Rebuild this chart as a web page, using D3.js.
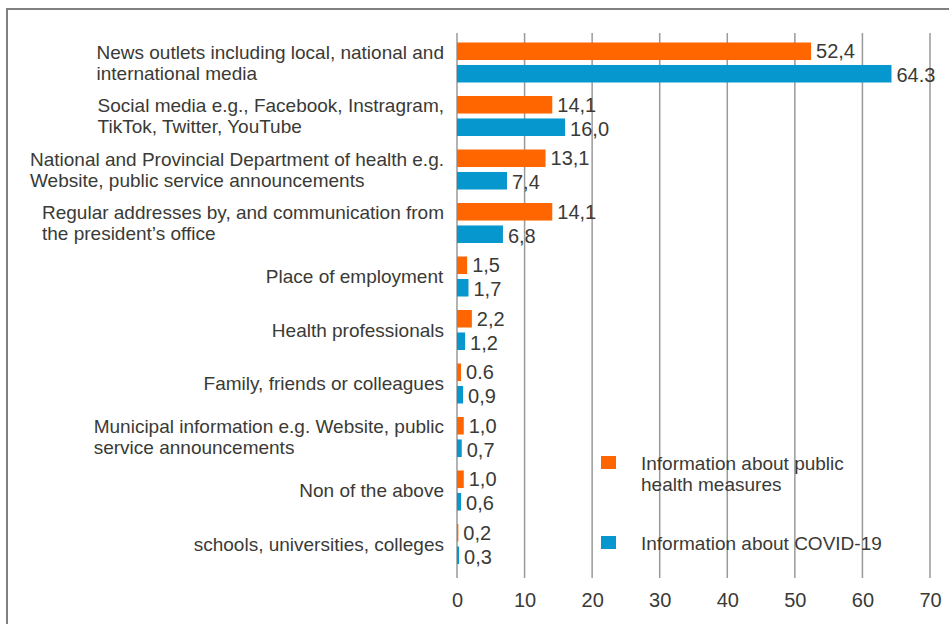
<!DOCTYPE html>
<html>
<head>
<meta charset="utf-8">
<script src="https://cdn.jsdelivr.net/npm/d3@7"></script>
<style>
  body { margin: 0; background: #fff; }
  svg { display: block; font-family: "Liberation Sans", Arial, sans-serif; }
</style>
</head>
<body>
<div id="chart"></div>
<script>
/* DATA */
const categories = [
  ["News outlets including local, national and", "international media"],
  ["Social media e.g., Facebook, Instragram,", "TikTok, Twitter, YouTube"],
  ["National and Provincial Department of health e.g.", "Website, public service announcements"],
  ["Regular addresses by, and communication from", "the president\u2019s office"],
  ["Place of employment"],
  ["Health professionals"],
  ["Family, friends or colleagues"],
  ["Municipal information e.g. Website, public", "service announcements"],
  ["Non of the above"],
  ["schools, universities, colleges"]
];
const healthValues = [52.4, 14.1, 13.1, 14.1, 1.5, 2.2, 0.6, 1.0, 1.0, 0.2];
const covidValues  = [64.3, 16.0, 7.4, 6.8, 1.7, 1.2, 0.9, 0.7, 0.6, 0.3];
const healthLabels = ["52,4", "14,1", "13,1", "14,1", "1,5", "2,2", "0.6", "1,0", "1,0", "0,2"];
const covidLabels  = ["64.3", "16,0", "7,4", "6,8", "1,7", "1,2", "0,9", "0,7", "0,6", "0,3"];
const seriesNames = ["Information about public health measures", "Information about COVID-19"];
const xTicks = [0, 10, 20, 30, 40, 50, 60, 70];

/* CONSTANTS */
const width = 949, height = 624;
const colors = ["#ff6600", "#0797cf"];
const textColor = "#3a3a36";

const svg = d3.select("#chart").append("svg")
  .attr("width", width)
  .attr("height", height);

// frame
svg.append("rect")
  .attr("x", 7).attr("y", 9)
  .attr("width", width + 20).attr("height", height + 20)
  .attr("fill", "none")
  .attr("stroke", "#808080")
  .attr("stroke-width", 2);

// SCALES
const xScale = d3.scaleLinear().domain([0, 70]).range([457, 930]);
const yScale = d3.scaleBand()
  .domain(d3.range(categories.length))
  .range([37, 37 + 53.5 * categories.length]);
const inner = d3.scaleBand()
  .domain([0, 1])
  .range([5.5, 45.5])
  .paddingInner(0.22);

// GRID
svg.append("g")
  .selectAll("line")
  .data(xTicks)
  .join("line")
  .attr("x1", d => xScale(d)).attr("x2", d => xScale(d))
  .attr("y1", 33).attr("y2", 578)
  .attr("stroke", "#9a9a9a")
  .attr("stroke-width", 1.5);

// X AXIS labels
const xAxis = d3.axisBottom(xScale).tickValues(xTicks).tickSize(0).tickPadding(0);
const xAxisGroup = svg.append("g")
  .attr("transform", `translate(0, ${593})`)
  .call(xAxis);
xAxisGroup.select(".domain").remove();
xAxisGroup.selectAll("text")
  .attr("font-size", 20)
  .attr("font-family", "Liberation Sans, Arial, sans-serif")
  .attr("fill", textColor);

// BARS
const series = [healthValues, covidValues];
const labels = [healthLabels, covidLabels];

series.forEach((vals, s) => {
  svg.append("g")
    .selectAll("rect")
    .data(vals)
    .join("rect")
    .attr("x", xScale(0))
    .attr("y", (d, i) => yScale(i) + inner(s))
    .attr("width", d => xScale(d) - xScale(0))
    .attr("height", inner.bandwidth())
    .attr("fill", colors[s]);

  svg.append("g")
    .selectAll("text")
    .data(vals)
    .join("text")
    .attr("x", d => xScale(d) + 5)
    .attr("y", (d, i) => yScale(i) + inner(s) + inner.bandwidth() / 2 + 7 + s * 1.5)
    .attr("font-size", 20)
    .attr("fill", textColor)
    .text((d, i) => labels[s][i]);
});

// CATEGORY LABELS (left aligned blocks, right edge at 444)
const rightEdge = 444, lineH = 21;
categories.forEach((lines, i) => {
  const cy = yScale(i) + yScale.bandwidth() / 2 - 1;
  const t = svg.append("text")
    .attr("font-size", 19)
    .attr("fill", textColor);
  lines.forEach((ln, j) => {
    t.append("tspan")
      .attr("x", 0)
      .attr("y", cy + 6.5 + (j - (lines.length - 1) / 2) * lineH)
      .text(ln);
  });
  const w = t.node().getBBox().width;
  t.selectAll("tspan").attr("x", rightEdge - w);
});

// LEGEND
const legend = svg.append("g");
const legendRows = [
  { y: 456, lines: ["Information about public", "health measures"] },
  { y: 536, lines: ["Information about COVID-19"] }
];
legendRows.forEach((row, i) => {
  legend.append("rect")
    .attr("x", 601).attr("y", row.y)
    .attr("width", 15).attr("height", 13)
    .attr("fill", colors[i]);
  const t = legend.append("text")
    .attr("font-size", 19)
    .attr("fill", textColor);
  row.lines.forEach((ln, j) => {
    t.append("tspan")
      .attr("x", 641)
      .attr("y", row.y + 14 + j * 21)
      .text(ln);
  });
});
</script>
</body>
</html>
